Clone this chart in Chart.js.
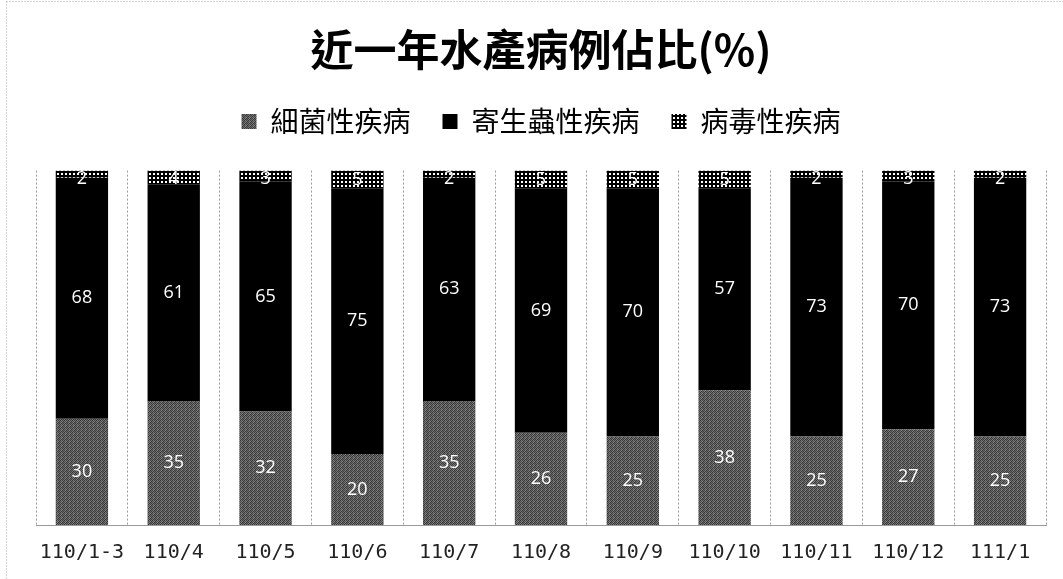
<!DOCTYPE html>
<html>
<head>
<meta charset="utf-8">
<script src="https://cdn.jsdelivr.net/npm/chart.js@4.4.0/dist/chart.umd.min.js"></script>
<style>
  html, body { margin: 0; padding: 0; background: #fff; }
</style>
</head>
<body>
<canvas id="chart" width="1063" height="579"></canvas>
<script>
const months = ["110/1-3", "110/4", "110/5", "110/6", "110/7", "110/8", "110/9", "110/10", "110/11", "110/12", "111/1"];
const bacterial = [30, 35, 32, 20, 35, 26, 25, 38, 25, 27, 25];
const parasitic = [68, 61, 65, 75, 63, 69, 70, 57, 73, 70, 73];
const viral = [2, 4, 3, 5, 2, 5, 5, 5, 2, 3, 2];
const seriesNames = ["細菌性疾病", "寄生蟲性疾病", "病毒性疾病"];

const CJK = '"Noto Sans CJK TC", "Noto Sans CJK SC", sans-serif';

// small tiled fills to mimic the scanned hatching
function makePattern(w, h, paint) {
  const c = document.createElement("canvas");
  c.width = w;
  c.height = h;
  const g = c.getContext("2d");
  paint(g);
  return g.createPattern(c, "repeat");
}

// fixed 4x4 speckle, darker grey on average
const speckle = [
  [2, 8, 3, 7],
  [7, 4, 9, 2],
  [3, 9, 2, 6],
  [8, 2, 6, 3]
];
const grayFill = makePattern(4, 4, g => {
  speckle.forEach((row, y) => row.forEach((v, x) => {
    const c = 28 + v * 12;
    g.fillStyle = `rgb(${c},${c},${c})`;
    g.fillRect(x, y, 1, 1);
  }));
});

const dotFill = makePattern(4, 4, g => {
  g.fillStyle = "#000";
  g.fillRect(0, 0, 4, 4);
  g.fillStyle = "#fff";
  g.fillRect(1, 1, 2, 2);
});

const valueLabels = {
  id: "valueLabels",
  afterDatasetsDraw(chart) {
    const ctx = chart.ctx;
    ctx.save();
    ctx.fillStyle = "#fff";
    ctx.font = '18px "Open Sans", sans-serif';
    ctx.textAlign = "center";
    ctx.textBaseline = "middle";
    chart.data.datasets.forEach((ds, di) => {
      chart.getDatasetMeta(di).data.forEach((bar, i) => {
        let y = (bar.y + bar.base) / 2;
        y = Math.max(y, chart.chartArea.top + 8);
        ctx.fillText(String(ds.data[i]), bar.x, y);
      });
    });
    ctx.restore();
  }
};

const frame = {
  id: "frame",
  beforeDraw(chart) {
    const ctx = chart.ctx;
    ctx.save();
    ctx.fillStyle = "#fff";
    ctx.fillRect(0, 0, chart.width, chart.height);
    ctx.strokeStyle = "#aaa";
    ctx.lineWidth = 1;
    ctx.setLineDash([1, 2]);
    ctx.beginPath();
    ctx.moveTo(6.5, 1.5);
    ctx.lineTo(chart.width, 1.5);
    ctx.moveTo(6.5, 1.5);
    ctx.lineTo(6.5, chart.height);
    ctx.stroke();
    ctx.restore();
  }
};

new Chart(document.getElementById("chart"), {
  type: "bar",
  data: {
    labels: months,
    datasets: [
      { label: seriesNames[0], data: bacterial, backgroundColor: grayFill, borderWidth: 0 },
      { label: seriesNames[1], data: parasitic, backgroundColor: "#000", borderWidth: 0 },
      { label: seriesNames[2], data: viral, backgroundColor: dotFill, borderWidth: 0 }
    ]
  },
  options: {
    responsive: false,
    animation: false,
    devicePixelRatio: 1,
    barPercentage: 0.57,
    categoryPercentage: 1,
    layout: { padding: { left: 36, right: 17, top: 0, bottom: 0 } },
    plugins: {
      title: {
        display: true,
        text: "近一年水產病例佔比(%)",
        color: "#000",
        font: { family: CJK, size: 43, weight: "bold" },
        padding: { top: 24, bottom: 0 }
      },
      legend: {
        position: "top",
        labels: {
          color: "#000",
          font: { family: CJK, size: 28 },
          boxWidth: 15,
          boxHeight: 15,
          padding: 32
        }
      },
      tooltip: { enabled: false }
    },
    scales: {
      x: {
        stacked: true,
        grid: { display: true, offset: true, color: "#9a9a9a", lineWidth: 1, drawTicks: false },
        border: { display: true, color: "#9a9a9a", dash: [2, 2] },
        ticks: {
          color: "#222",
          padding: 16,
          font: { family: '"DejaVu Sans Mono", monospace', size: 20 },
          maxRotation: 0,
          autoSkip: false
        },
        afterFit(s) { s.height = 54; }
      },
      xTop: {
        type: "category",
        position: "top",
        grid: { display: false },
        border: { display: false },
        ticks: { display: false },
        afterFit(s) { s.height = 25; }
      },
      y: {
        stacked: true,
        display: false,
        min: 0,
        max: 100
      }
    }
  },
  plugins: [frame, valueLabels]
});
</script>
</body>
</html>
